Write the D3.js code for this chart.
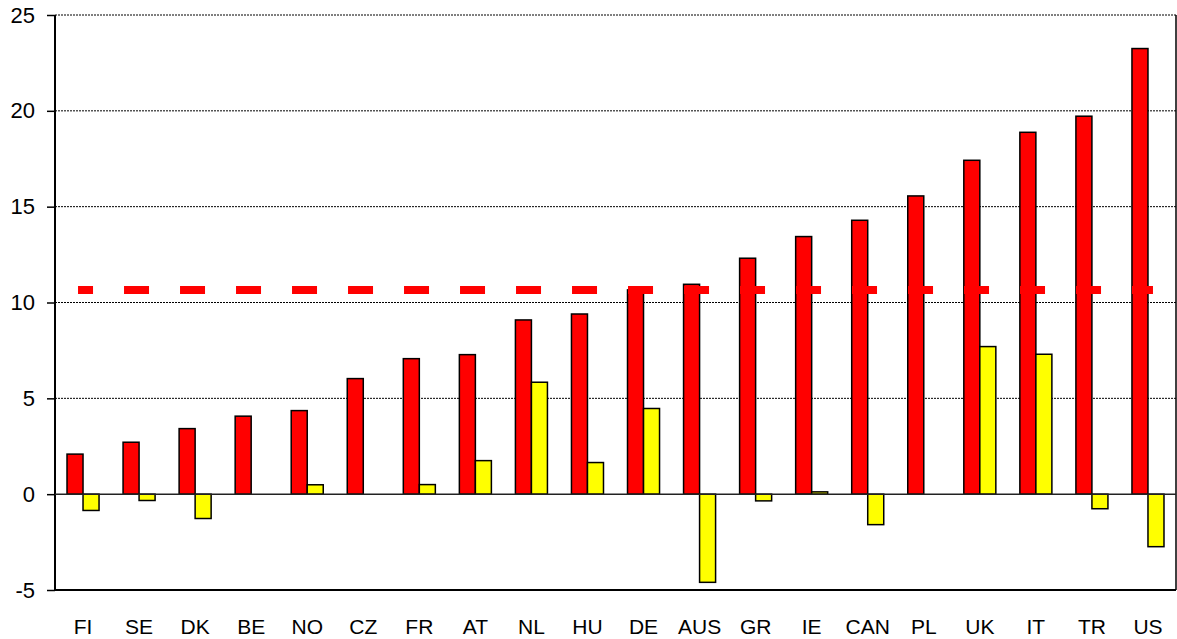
<!DOCTYPE html>
<html>
<head>
<meta charset="utf-8">
<script src="https://cdn.jsdelivr.net/npm/d3@7"></script>
<style>
  body { margin: 0; background: #fff; }
  text { font-family: Arial, "Liberation Sans", sans-serif; }
</style>
</head>
<body>
<div class="chart"></div>
<script>
const chart = d3.select('.chart');

const width = 1177;
const height = 639;

// data
const countries = ['FI','SE','DK','BE','NO','CZ','FR','AT','NL','HU','DE','AUS','GR','IE','CAN','PL','UK','IT','TR','US'];
const redValues = [2.09, 2.71, 3.42, 4.07, 4.36, 6.03, 7.07, 7.28, 9.09, 9.4, 10.66, 10.95, 12.31, 13.44, 14.29, 15.56, 17.42, 18.88, 19.72, 23.25];
const yellowValues = [-0.85, -0.33, -1.27, 0, 0.49, 0, 0.5, 1.75, 5.84, 1.65, 4.47, -4.6, -0.35, 0.12, -1.59, 0, 7.7, 7.3, -0.76, -2.74];
const averageValue = 10.65;
const yTicks = [-5, 0, 5, 10, 15, 20, 25];

const plotLeft = 55, plotRight = 1176, plotTop = 15, plotBottom = 590;

const svg = chart.append('svg')
    .attr('width', width)
    .attr('height', height);

const x0 = d3.scaleBand().domain(countries).range([plotLeft, plotRight]).padding(0);
const x1 = d3.scaleBand().domain(['red','yellow']).range([0, x0.bandwidth()])
    .paddingInner(0).paddingOuter(0.75);
const y = d3.scaleLinear().domain([-5, 25]).range([plotBottom, plotTop]);

// gridlines
svg.append('g')
  .selectAll('line')
  .data(yTicks.filter(d => d !== 0 && d !== -5))
  .enter().append('line')
    .attr('x1', plotLeft).attr('x2', plotRight)
    .attr('y1', d => y(d)).attr('y2', d => y(d))
    .style('stroke', '#000')
    .style('stroke-width', 1)
    .style('stroke-dasharray', '2,1');

// y axis
const yAxis = d3.axisLeft(y).tickValues(yTicks).tickSize(8).tickPadding(12).tickFormat(d => String(d));
const gy = svg.append('g')
    .attr('transform', `translate(${plotLeft},0)`)
    .call(yAxis);
gy.select('.domain').remove();
gy.selectAll('line').style('stroke', '#000').style('stroke-width', 1.5);
gy.selectAll('text').style('font-size', '22px').style('fill', '#000')
    .style('font-family', 'Arial, "Liberation Sans", sans-serif');

// frame: left, right, bottom
svg.append('line').attr('x1', plotLeft).attr('x2', plotLeft).attr('y1', plotTop).attr('y2', plotBottom)
    .style('stroke', '#000').style('stroke-width', 2);
svg.append('line').attr('x1', plotRight).attr('x2', plotRight).attr('y1', plotTop).attr('y2', plotBottom)
    .style('stroke', '#000').style('stroke-width', 1.5);
svg.append('line').attr('x1', plotLeft).attr('x2', plotRight).attr('y1', y(-5)).attr('y2', y(-5))
    .style('stroke', '#000').style('stroke-width', 2);

// bars
const bars = svg.append('g');
bars.selectAll('rect.red')
  .data(countries)
  .enter().append('rect')
    .attr('class', 'red')
    .attr('x', d => x0(d) + x1('red'))
    .attr('width', x1.bandwidth())
    .attr('y', (d, i) => y(Math.max(0, redValues[i])))
    .attr('height', (d, i) => Math.abs(y(redValues[i]) - y(0)))
    .attr('fill', '#ff0000')
    .attr('stroke', '#000')
    .attr('stroke-width', 1.5);

bars.selectAll('rect.yellow')
  .data(countries.filter((d, i) => yellowValues[i] !== 0))
  .enter().append('rect')
    .attr('class', 'yellow')
    .attr('x', d => x0(d) + x1('yellow'))
    .attr('width', x1.bandwidth())
    .attr('y', d => y(Math.max(0, yellowValues[countries.indexOf(d)])))
    .attr('height', d => Math.abs(y(yellowValues[countries.indexOf(d)]) - y(0)))
    .attr('fill', '#ffff00')
    .attr('stroke', '#000')
    .attr('stroke-width', 1.5);

// zero line
svg.append('line').attr('x1', plotLeft).attr('x2', plotRight).attr('y1', y(0)).attr('y2', y(0))
    .style('stroke', '#222').style('stroke-width', 1.5);

// average dashed line
const cx = d => x0(d) + x0.bandwidth() / 2;
svg.append('line')
    .attr('x1', cx(countries[0]) - 5)
    .attr('x2', cx(countries[countries.length - 1]) + 5)
    .attr('y1', y(averageValue)).attr('y2', y(averageValue))
    .style('stroke', '#ff0000')
    .style('stroke-width', 8)
    .style('stroke-dasharray', '25,31')
    .style('stroke-dashoffset', 10);

// x labels
svg.append('g')
  .selectAll('text')
  .data(countries)
  .enter().append('text')
    .attr('x', d => cx(d))
    .attr('y', 634)
    .attr('text-anchor', 'middle')
    .style('font-size', '21px')
    .style('fill', '#000')
    .text(d => d);
</script>
</body>
</html>
